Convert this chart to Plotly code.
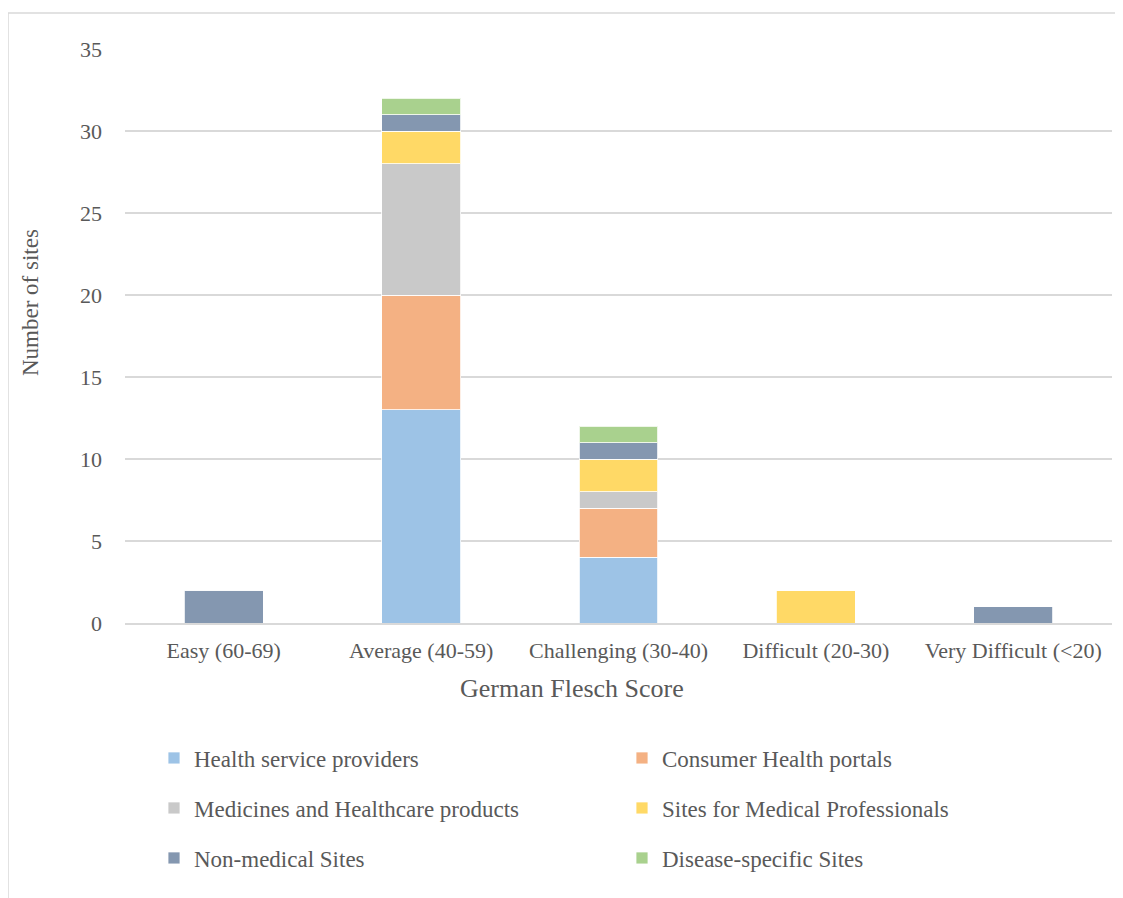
import plotly.graph_objects as go

categories = ["Easy (60-69)", "Average (40-59)", "Challenging (30-40)", "Difficult (20-30)", "Very Difficult (<20)"]
series_names = ["Health service providers", "Consumer Health portals", "Medicines and Healthcare products",
                "Sites for Medical Professionals", "Non-medical Sites", "Disease-specific Sites"]
health = [0, 13, 4, 0, 0]
consumer = [0, 7, 3, 0, 0]
medicines = [0, 8, 1, 0, 0]
professionals = [0, 2, 2, 2, 0]
nonmedical = [2, 1, 1, 0, 1]
disease = [0, 1, 1, 0, 0]
series_values = [health, consumer, medicines, professionals, nonmedical, disease]
colors = ["#9DC3E6", "#F4B183", "#C9C9C9", "#FFD966", "#8497B0", "#A9D18E"]
legend_ids = ["legend", "legend", "legend2", "legend2", "legend3", "legend3"]
y_ticks = [0, 5, 10, 15, 20, 25, 30, 35]

FONT = "Liberation Serif"
TXT = "#595959"

OFF = 8  # page body margin
W, H = 1123 - OFF, 898 - OFF
L, T = 125 - OFF, 49 - OFF
pw, ph = 987, 574
R = W - L - pw
B = H - T - ph

def px2x(px):
    return (px - OFF - L) / pw

def py2y(py):
    return (T + ph - (py - OFF)) / ph

fig = go.Figure()
for name, vals, col, lg in zip(series_names, series_values, colors, legend_ids):
    fig.add_trace(go.Bar(
        x=categories, y=vals, name=name, legend=lg,
        marker=dict(color=col, line=dict(color="rgba(255,255,255,0.8)", width=1)),
    ))

leg_common = dict(orientation="h", xanchor="left", yanchor="middle", entrywidth=423,
                  font=dict(family=FONT, size=23, color=TXT), bgcolor="rgba(0,0,0,0)",
                  itemwidth=30, traceorder="normal")
fig.update_layout(
    width=W, height=H,
    margin=dict(l=L, r=R, t=T, b=B, autoexpand=False),
    paper_bgcolor="white", plot_bgcolor="white",
    barmode="stack", bargap=0.6,
    font=dict(family=FONT, color=TXT, size=22),
    legend=dict(x=px2x(154), y=py2y(758), **leg_common),
    legend2=dict(x=px2x(154), y=py2y(808), **leg_common),
    legend3=dict(x=px2x(154), y=py2y(858), **leg_common),
    xaxis=dict(showgrid=False, showline=True, linecolor="#D9D9D9", linewidth=1.5,
               tickfont=dict(family=FONT, size=22, color=TXT), ticks="", ticklabelstandoff=7),
    yaxis=dict(range=[0, 35], tickvals=y_ticks, showgrid=True, gridcolor="#D9D9D9", gridwidth=1.5,
               zeroline=False, showline=False, ticks="", ticklabelstandoff=22,
               tickfont=dict(family=FONT, size=22, color=TXT)),
    annotations=[
        dict(text="German Flesch Score", xref="paper", yref="paper", x=px2x(572), y=py2y(688),
             showarrow=False, xanchor="center", yanchor="middle",
             font=dict(family=FONT, size=26, color=TXT)),
        dict(text="Number of sites", xref="paper", yref="paper", x=px2x(30), y=py2y(303),
             showarrow=False, xanchor="center", yanchor="middle", textangle=-90,
             font=dict(family=FONT, size=23, color=TXT)),
    ],
    shapes=[
        dict(type="rect", xref="paper", yref="paper", x0=px2x(8), y0=py2y(905), x1=px2x(1130), y1=py2y(13),
             line=dict(color="#D9D9D9", width=1.5), fillcolor="rgba(0,0,0,0)", layer="below"),
    ],
)

fig.write_html("out.html")
